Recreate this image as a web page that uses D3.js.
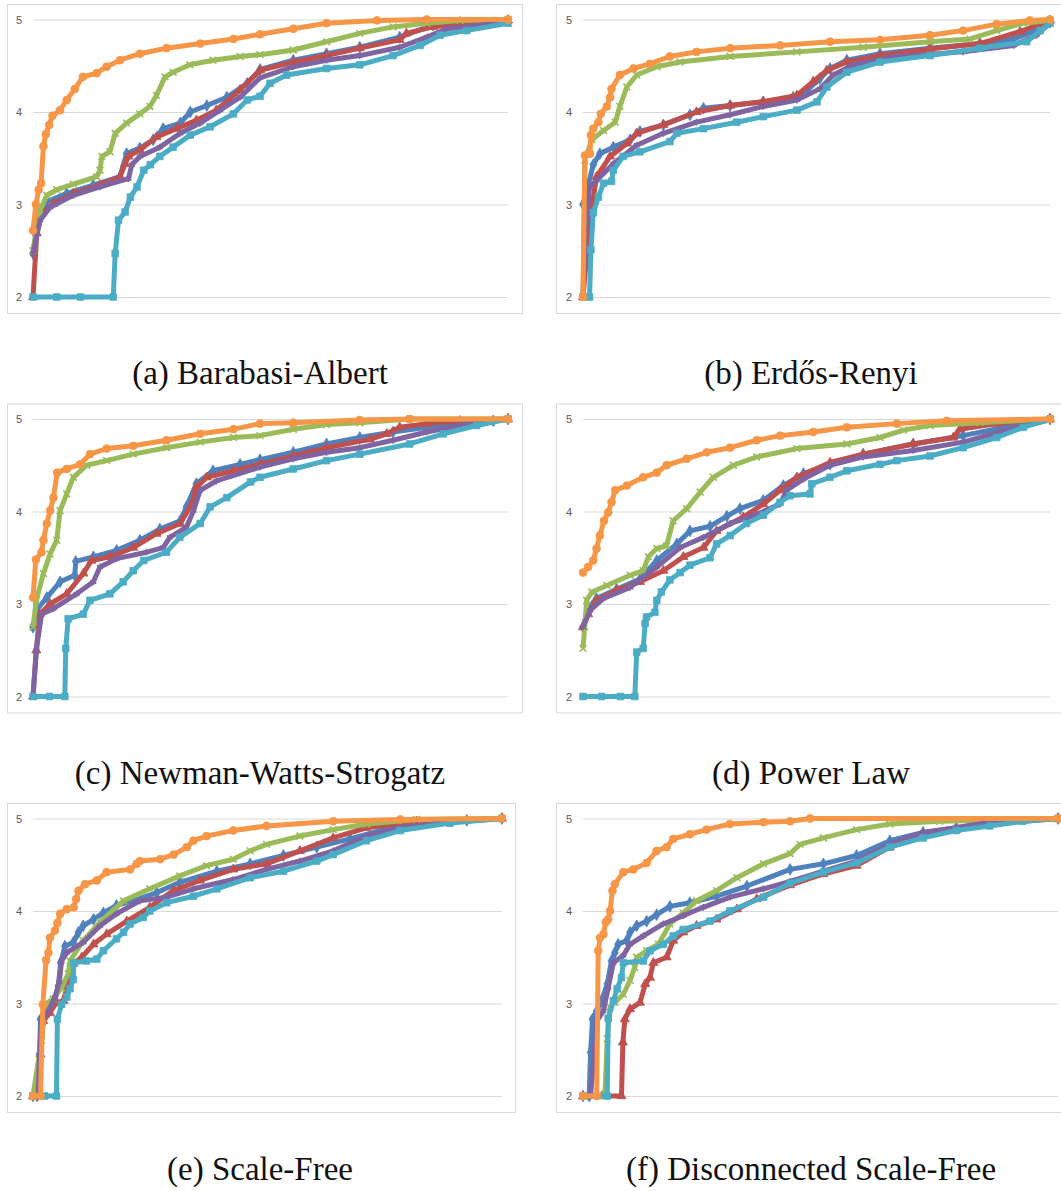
<!DOCTYPE html>
<html>
<head>
<meta charset="utf-8">
<script src="https://cdn.jsdelivr.net/npm/d3@7"></script>
<style>
  body { margin: 0; background: #fff; }
  svg { display: block; }
</style>
</head>
<body>
<svg id="fig" width="1061" height="1191"></svg>
<script>
// Valeurs : x en % de l'axe, y = score (2..5)

const yTicks = [2, 3, 4, 5];
const yDomain = [2, 5];

// (a) Barabasi-Albert
const baBlue = [[0,2.47],[1.1,2.87],[2.9,3.03],[7.1,3.12],[12.7,3.21],[18.3,3.30],[19.7,3.55],[22.5,3.61],[25.3,3.70],[27.4,3.82],[31,3.88],[33.1,4.00],[36.6,4.07],[40.8,4.16],[45.1,4.31],[47.8,4.46],[54.8,4.56],[61.8,4.63],[68.8,4.70],[77.2,4.81],[84.2,4.94],[89.9,4.97],[100,4.99]];
const baRed = [[0,2.0],[0.8,2.69],[1.8,2.90],[4.3,3.01],[8.5,3.12],[14.1,3.21],[18.3,3.30],[19.4,3.44],[20.1,3.52],[22.5,3.59],[26,3.73],[30.2,3.82],[34.4,3.91],[38.6,4.02],[43.6,4.24],[47.8,4.45],[54.8,4.54],[61.8,4.61],[68.8,4.69],[77.2,4.78],[78.6,4.85],[84.2,4.92],[89.9,4.96],[100,4.99]];
const baGreen = [[0,2.5],[1.5,2.94],[2.9,3.10],[5,3.16],[8.5,3.22],[13.4,3.30],[14.1,3.37],[14.5,3.52],[16.2,3.57],[17.3,3.77],[19.7,3.88],[22.5,3.98],[24.6,4.06],[26,4.18],[27.8,4.38],[29.5,4.43],[33,4.51],[37.9,4.56],[43.6,4.60],[47.8,4.62],[54.8,4.67],[61.8,4.76],[68.8,4.85],[75.8,4.92],[82.9,4.96],[89.9,4.99],[100,5.0]];
const baPurple = [[0,2.47],[1.5,2.83],[3.6,2.97],[8.5,3.10],[14.1,3.19],[20.1,3.28],[20.8,3.43],[22.5,3.52],[26.7,3.62],[31,3.77],[35.2,3.88],[39.4,4.02],[43.6,4.16],[47.8,4.37],[54.8,4.49],[61.8,4.56],[68.8,4.61],[77.2,4.70],[82.9,4.81],[87.1,4.90],[100,4.97]];
const baAqua = [[0,2.0],[5,2.0],[10,2.0],[16.9,2.0],[17.3,2.47],[18,2.83],[19.4,2.92],[20.5,3.08],[21.9,3.19],[23.3,3.37],[24.7,3.43],[26.7,3.52],[29.5,3.62],[33.1,3.75],[37.3,3.84],[42.2,3.98],[45.1,4.13],[47.8,4.17],[49.9,4.31],[53.4,4.40],[61.8,4.47],[68.8,4.51],[75.8,4.61],[81.5,4.72],[85.7,4.83],[91.3,4.88],[100,4.96]];
const baOrange = [[0,2.72],[0.6,3.0],[1.2,3.16],[1.7,3.23],[2.2,3.63],[2.7,3.76],[3.4,3.86],[4.1,3.96],[5.7,4.02],[7.1,4.13],[8.8,4.25],[10.5,4.38],[13.4,4.42],[15.5,4.49],[18.3,4.56],[22.5,4.63],[28.1,4.69],[35.2,4.74],[42.2,4.79],[47.8,4.84],[54.8,4.90],[61.8,4.96],[72.4,4.99],[82.9,5.0],[100,5.0]];

// (b) Erdős-Renyi
const erBlue = [[0,3.0],[1.1,3.21],[2.2,3.43],[3.6,3.55],[6.5,3.62],[10.1,3.70],[12.2,3.79],[17.2,3.86],[22.9,3.97],[25.8,4.04],[31.5,4.07],[38.6,4.11],[45,4.16],[47.9,4.23],[50.7,4.36],[52.9,4.47],[56.5,4.56],[63.6,4.63],[74.3,4.69],[85,4.74],[92.2,4.79],[96.4,4.87],[100,4.97]];
const erRed = [[0,2.0],[0.9,2.51],[1.9,2.97],[2.9,3.30],[5.8,3.52],[9.4,3.66],[11.5,3.77],[17.2,3.86],[24.3,4.00],[31.5,4.07],[38.6,4.11],[45.8,4.18],[49.3,4.33],[52.2,4.45],[56.5,4.54],[63.6,4.61],[74.3,4.68],[85,4.74],[93.6,4.87],[100,4.99]];
const erGreen = [[0,2.0],[0.4,3.48],[1.9,3.70],[4.4,3.80],[6.9,3.89],[7.9,4.06],[9.4,4.27],[11.5,4.40],[15.8,4.49],[20.8,4.54],[31.5,4.60],[45.8,4.65],[60,4.70],[74.3,4.76],[82.9,4.79],[88.6,4.88],[94.3,4.96],[100,4.99]];
const erPurple = [[0,2.0],[0.4,2.61],[1.4,3.19],[2.9,3.26],[6.5,3.44],[11.5,3.64],[17.2,3.77],[24.3,3.89],[31.5,3.97],[38.6,4.06],[45.8,4.13],[50.7,4.25],[53.6,4.40],[57.9,4.51],[67.2,4.60],[81.4,4.65],[92.2,4.72],[97.1,4.83],[100,4.96]];
const erAqua = [[0,2.0],[1.4,2.0],[1.7,2.51],[2.2,2.91],[3.3,3.08],[4.4,3.23],[6.1,3.25],[6.5,3.37],[8.6,3.52],[12.2,3.57],[18.6,3.68],[20.1,3.77],[25.8,3.82],[32.9,3.89],[38.6,3.95],[45.8,4.02],[50.1,4.11],[52.2,4.27],[56.5,4.43],[63.6,4.54],[74.3,4.61],[85,4.69],[95,4.76],[97.9,4.88],[100,4.96]];
const erOrange = [[0,2.0],[0.4,3.53],[1.5,3.55],[1.7,3.75],[2.2,3.82],[3.3,3.89],[3.8,3.98],[5.1,4.06],[5.8,4.16],[6.1,4.25],[7.9,4.40],[10.8,4.47],[14.3,4.52],[18.6,4.60],[24.3,4.65],[31.5,4.69],[42.2,4.72],[52.9,4.76],[63.6,4.78],[74.3,4.83],[81.4,4.88],[88.6,4.95],[95.7,4.99],[100,5.0]];

// (c) Newman-Watts-Strogatz
const nwsBlue = [[0,2.75],[0.7,2.93],[2.9,3.07],[5.7,3.24],[8.8,3.31],[9.0,3.46],[12.7,3.51],[17.6,3.58],[22.5,3.69],[26.7,3.81],[31,3.90],[32.3,4.05],[34.4,4.30],[37.9,4.44],[43.6,4.51],[47.8,4.56],[54.8,4.64],[61.8,4.73],[68.8,4.80],[75.8,4.86],[82.9,4.91],[89.9,4.95],[96.9,4.98],[100,5.0]];
const nwsRed = [[0,2.0],[0.7,2.50],[1.4,2.89],[3.6,3.0],[7.1,3.11],[10.6,3.33],[12.3,3.47],[16.2,3.51],[21.1,3.61],[26,3.76],[31,3.87],[33.4,4.08],[34.4,4.26],[36.6,4.37],[42.2,4.44],[47.8,4.51],[54.8,4.60],[61.8,4.69],[70.9,4.78],[74.5,4.84],[77.2,4.91],[82.9,4.95],[89.9,4.98],[100,5.0]];
const nwsGreen = [[0,2.75],[0.7,3.04],[2.2,3.33],[3.6,3.54],[5,3.69],[5.7,4.01],[7.1,4.19],[8.5,4.37],[11.3,4.50],[15.5,4.55],[21.1,4.62],[28.1,4.69],[35.2,4.75],[42.2,4.80],[47.8,4.82],[54.8,4.89],[61.8,4.94],[68.8,4.96],[79.3,5.0],[100,5.0]];
const nwsPurple = [[0,2.0],[0.7,2.5],[1.8,2.89],[4.3,2.95],[9.2,3.11],[12.7,3.24],[14.1,3.40],[17.6,3.49],[23.9,3.56],[27.4,3.61],[28.8,3.72],[32.3,3.83],[33.8,4.01],[35.2,4.23],[38.6,4.33],[47.8,4.48],[54.8,4.57],[61.8,4.64],[68.8,4.69],[75.8,4.77],[82.9,4.86],[89.9,4.93],[100,5.0]];
const nwsAqua = [[0,2.0],[3.5,2.0],[6.7,2.0],[6.9,2.52],[7.4,2.84],[10.6,2.89],[12,3.04],[16.2,3.11],[19,3.24],[21.1,3.36],[23.3,3.47],[28.1,3.56],[30.9,3.72],[35.2,3.87],[37.3,4.05],[40.8,4.15],[45.8,4.32],[47.8,4.37],[54.8,4.46],[61.8,4.55],[68.8,4.62],[79.3,4.73],[86.4,4.84],[93.4,4.93],[100,5.0]];
const nwsOrange = [[0,3.07],[0.6,3.48],[1.8,3.56],[2.2,3.69],[2.9,3.87],[3.6,4.01],[4.3,4.15],[5.1,4.42],[7.1,4.46],[9.9,4.51],[12,4.62],[15.5,4.68],[21.1,4.71],[28.1,4.77],[35.2,4.84],[42.2,4.89],[47.8,4.95],[54.8,4.96],[68.8,4.99],[79.3,5.0],[100,5.0]];

// (d) Power Law
const plBlue = [[0,2.75],[1.1,2.95],[2.9,3.06],[7.2,3.16],[12.2,3.27],[15.8,3.47],[20.1,3.65],[22.9,3.79],[27.2,3.84],[30.8,3.95],[33.6,4.03],[38.6,4.12],[42.9,4.28],[47.2,4.41],[52.9,4.51],[60,4.62],[70.7,4.73],[81.4,4.82],[90,4.91],[100,5.0]];
const plRed = [[0,2.75],[1.1,2.89],[2.9,3.04],[7.2,3.15],[12.2,3.24],[17.2,3.36],[21.5,3.51],[25.8,3.61],[28.6,3.79],[34.3,3.94],[38.6,4.08],[42.2,4.23],[45.8,4.37],[52.9,4.53],[60,4.62],[70.7,4.73],[79.3,4.80],[80.7,4.89],[88.6,4.95],[100,5.0]];
const plGreen = [[0,2.52],[0.8,3.04],[1.9,3.13],[5.1,3.20],[10.1,3.31],[12.9,3.36],[14,3.51],[15.8,3.60],[17.9,3.63],[19.3,3.90],[22.2,4.03],[25.1,4.21],[27.9,4.37],[32.2,4.50],[37.2,4.59],[45.8,4.68],[56.5,4.73],[63.6,4.80],[68.6,4.88],[74.3,4.93],[85,4.96],[100,5.0]];
const plPurple = [[0,2.75],[1.5,2.93],[4.4,3.06],[10.1,3.18],[15.8,3.40],[20.8,3.61],[25.8,3.72],[31.5,3.87],[37.2,3.97],[42.2,4.08],[43.6,4.23],[47.2,4.35],[52.9,4.50],[60,4.59],[70.7,4.66],[81.4,4.75],[90,4.87],[100,4.99]];
const plAqua = [[0,2.0],[4,2.0],[8,2.0],[11.1,2.0],[11.5,2.48],[12.9,2.52],[13.3,2.79],[13.6,2.86],[15.4,2.91],[15.8,3.04],[16.8,3.13],[18.6,3.26],[20.8,3.34],[22.9,3.42],[27.2,3.50],[28.6,3.65],[31.5,3.74],[35,3.87],[38.6,3.96],[42.2,4.10],[44.3,4.17],[48.6,4.19],[49,4.30],[52.9,4.37],[56.5,4.44],[63.6,4.51],[67.2,4.55],[74.3,4.60],[81.4,4.69],[88.6,4.80],[94.3,4.91],[100,5.0]];
const plOrange = [[0,3.34],[1.1,3.40],[2.2,3.47],[2.9,3.60],[3.6,3.74],[4.5,3.90],[5.4,3.99],[6.1,4.10],[6.9,4.23],[9.4,4.28],[12.9,4.37],[15.8,4.42],[17.9,4.50],[22.2,4.57],[26.5,4.64],[31.5,4.69],[37.2,4.77],[42.2,4.82],[49.3,4.86],[56.5,4.91],[67.2,4.95],[77.9,4.98],[100,5.0]];

// (e) Scale-Free
const sfBlue = [[0,2.0],[0.9,2.0],[1.4,2.45],[1.6,2.83],[2.9,2.92],[4.7,3.03],[5.4,3.19],[5.9,3.44],[6.8,3.62],[8.6,3.66],[9.7,3.77],[10.7,3.84],[12.9,3.91],[15,3.98],[17.8,4.06],[21.4,4.11],[26.4,4.20],[31.3,4.31],[39.2,4.43],[46.3,4.51],[53.4,4.60],[60.5,4.69],[67.6,4.78],[74.7,4.88],[81.8,4.95],[92.5,4.98],[100,5.0]];
const sfRed = [[0,2.0],[1.1,2.0],[1.6,2.45],[2.2,2.81],[3.6,2.90],[5,3.01],[6.5,3.03],[7.5,3.23],[8.6,3.43],[10.4,3.50],[12.9,3.64],[15.7,3.75],[20,3.89],[24.9,4.04],[29.9,4.22],[35.6,4.33],[42.7,4.45],[49.8,4.51],[56.9,4.65],[64,4.79],[71.1,4.90],[81.8,4.97],[100,5.0]];
const sfGreen = [[0,2.0],[1.8,2.60],[2.6,2.99],[4.3,3.05],[6.1,3.17],[7.5,3.32],[7.9,3.46],[10.7,3.68],[14.3,3.88],[19.3,4.11],[24.9,4.24],[31.3,4.38],[37,4.49],[42.7,4.56],[46.3,4.65],[49.8,4.72],[56.9,4.81],[64,4.88],[71.1,4.94],[81.8,4.99],[100,5.0]];
const sfPurple = [[0,2.0],[1.1,2.0],[1.4,2.45],[1.8,2.81],[3.3,2.92],[4.7,3.07],[5.6,3.23],[6.1,3.46],[7.2,3.55],[10.7,3.66],[14.3,3.84],[17.8,3.97],[22.8,4.11],[28.5,4.15],[34.2,4.24],[42.7,4.34],[49.8,4.45],[56.9,4.54],[64,4.65],[71.1,4.81],[78.3,4.90],[88.9,4.96],[100,5.0]];
const sfAqua = [[0,2.0],[2.5,2.0],[5,2.0],[5.2,2.83],[6.1,2.99],[7.2,3.07],[7.9,3.16],[8.6,3.26],[8.7,3.44],[11.4,3.46],[13.6,3.48],[15,3.57],[17.8,3.70],[19.3,3.77],[20.7,3.86],[23.5,3.93],[24.9,4.00],[28.5,4.09],[34.2,4.16],[39.2,4.24],[46.3,4.36],[53.4,4.43],[60.5,4.54],[64,4.61],[71.1,4.76],[78.3,4.87],[88.9,4.95],[100,5.0]];
const sfOrange = [[0,2.0],[1.6,2.0],[2.1,2.99],[2.8,3.47],[3.3,3.55],[3.6,3.71],[4.7,3.79],[5.2,3.87],[5.8,3.97],[7.2,4.02],[8.7,4.04],[9.2,4.13],[9.7,4.22],[11.1,4.29],[13.6,4.33],[15.7,4.42],[20.7,4.45],[22.1,4.51],[22.8,4.54],[27.1,4.56],[30,4.61],[32.8,4.69],[34.2,4.76],[37,4.81],[42.7,4.87],[49.8,4.92],[64,4.97],[78.3,4.99],[100,5.0]];

// (f) Disconnected Scale-Free
const dsfBlue = [[0,2.0],[1.3,2.0],[1.6,2.47],[2.0,2.83],[2.9,2.92],[3.9,3.03],[5.1,3.21],[6.0,3.46],[6.7,3.55],[7.4,3.64],[9.2,3.68],[9.9,3.77],[11.3,3.84],[13.4,3.89],[15.5,3.96],[18.3,4.05],[22.5,4.09],[28.1,4.16],[34.5,4.27],[43.6,4.45],[50.6,4.51],[57.6,4.60],[64.6,4.76],[71.6,4.85],[78.6,4.90],[85.6,4.96],[100,5.0]];
const dsfRed = [[0,2.0],[4,2.0],[8.1,2.0],[8.4,2.58],[8.8,2.83],[9.9,2.94],[12,3.01],[13.1,3.21],[14.1,3.28],[14.8,3.44],[17.6,3.50],[19,3.68],[21.1,3.77],[23.9,3.84],[28.1,3.91],[32.4,4.02],[36.6,4.13],[43.6,4.28],[50.6,4.40],[57.6,4.49],[64.6,4.69],[71.6,4.83],[78.6,4.88],[85.6,4.94],[100,5.0]];
const dsfGreen = [[0,2.0],[4.6,2.0],[5.1,2.62],[5.7,2.96],[6.7,3.01],[8.5,3.10],[9.9,3.25],[10.9,3.39],[11.3,3.50],[13.4,3.57],[15.9,3.64],[18.3,3.86],[21.1,3.98],[23.9,4.11],[28.1,4.22],[32.4,4.36],[38,4.51],[43.6,4.62],[45.7,4.72],[50.6,4.79],[57.6,4.88],[64.6,4.94],[75.1,4.97],[100,5.0]];
const dsfPurple = [[0,2.0],[1.6,2.0],[2.9,2.81],[4.3,2.92],[5.3,3.17],[6.4,3.44],[8.5,3.52],[9.9,3.64],[12.7,3.73],[16.9,3.86],[21.1,3.95],[25.3,4.04],[31,4.15],[38,4.24],[43.6,4.32],[50.6,4.43],[57.6,4.54],[64.6,4.72],[71.6,4.85],[78.6,4.90],[85.6,4.96],[100,5.0]];
const dsfAqua = [[0,2.0],[5.1,2.0],[5.3,2.84],[6.4,3.03],[7.2,3.16],[8.1,3.28],[8.5,3.44],[12.7,3.46],[14.1,3.57],[16.9,3.64],[19,3.73],[21.1,3.80],[26.7,3.89],[30.9,4.0],[38,4.15],[43.6,4.30],[50.6,4.42],[57.6,4.52],[64.6,4.69],[71.6,4.79],[78.6,4.87],[85.6,4.92],[92.6,4.97],[100,5.0]];
const dsfOrange = [[0,2.0],[2.9,2.0],[3.2,3.57],[3.6,3.71],[4.3,3.75],[4.8,3.88],[5.3,3.91],[5.7,4.0],[6.2,4.22],[6.7,4.29],[8.5,4.42],[10.6,4.45],[13.4,4.52],[15.5,4.65],[17.6,4.69],[19,4.78],[22.5,4.83],[26,4.88],[30.9,4.94],[38,4.96],[43.6,4.97],[47.8,5.0],[100,5.0]];

const titles = ["(a) Barabasi-Albert", "(b) Erdős-Renyi", "(c) Newman-Watts-Strogatz", "(d) Power Law", "(e) Scale-Free", "(f) Disconnected Scale-Free"];

// series order = ordre de tracé (le dernier passe dessus)
const seriesStyle = [
  { color: "#4F81BD", symbol: d3.symbolDiamond, size: 40, stroke: false },
  { color: "#C0504D", symbol: d3.symbolTriangle, size: 36, stroke: false },
  { color: "#9BBB59", symbol: d3.symbolX, size: 32, stroke: true },
  { color: "#8064A2", symbol: d3.symbolAsterisk, size: 32, stroke: true },
  { color: "#4BACC6", symbol: d3.symbolSquare, size: 44, stroke: false },
  { color: "#F79646", symbol: d3.symbolCircle, size: 48, stroke: false }
];

const panelSeries = [
  [baBlue, baRed, baGreen, baPurple, baAqua, baOrange],
  [erBlue, erRed, erGreen, erPurple, erAqua, erOrange],
  [nwsBlue, nwsRed, nwsGreen, nwsPurple, nwsAqua, nwsOrange],
  [plBlue, plRed, plGreen, plPurple, plAqua, plOrange],
  [sfBlue, sfRed, sfGreen, sfPurple, sfAqua, sfOrange],
  [dsfBlue, dsfRed, dsfGreen, dsfPurple, dsfAqua, dsfOrange]
];

// mise en page des 6 vignettes (cadre, zone de tracé, légende)
const rowTop = [0, 399.5, 799];
const captionY = [384, 384, 381];
const layout = [
  { col: 0, row: 0, frame: [7, 522], plot: [33, 508] },
  { col: 1, row: 0, frame: [556, 1075], plot: [583, 1050] },
  { col: 0, row: 1, frame: [7, 522], plot: [33, 508] },
  { col: 1, row: 1, frame: [556, 1075], plot: [583, 1050] },
  { col: 0, row: 2, frame: [7, 515], plot: [33, 502] },
  { col: 1, row: 2, frame: [556, 1075], plot: [583, 1058] }
];
const captionX = [260, 811];

const svg = d3.select("#fig");

layout.forEach((L, i) => {
  const top = rowTop[L.row];
  const g = svg.append("g").attr("transform", `translate(0,${top})`);

  // cadre du graphique
  g.append("rect")
    .attr("x", L.frame[0] + 0.5).attr("y", 4.5)
    .attr("width", L.frame[1] - L.frame[0]).attr("height", 309)
    .attr("fill", "#fff").attr("stroke", "#d9d9d9").attr("stroke-width", 1);

  const x = d3.scaleLinear().domain([0, 100]).range(L.plot);
  const y = d3.scaleLinear().domain(yDomain).range([297, 19.5]);
  const width = L.plot[1] - L.plot[0];

  const yAxis = g.append("g")
    .attr("transform", `translate(${L.plot[0]},0)`)
    .call(d3.axisLeft(y).tickValues(yTicks).tickSize(-width).tickPadding(11).tickFormat(d3.format("d")));
  yAxis.select(".domain").remove();
  yAxis.selectAll(".tick line").attr("stroke", "#d9d9d9").attr("stroke-width", 1);
  yAxis.selectAll(".tick text")
    .attr("fill", "#595959")
    .style("font-family", "'Liberation Sans', Arial, sans-serif")
    .style("font-size", "11px");

  const line = d3.line().x(d => x(d[0])).y(d => y(d[1]));

  panelSeries[i].forEach((data, s) => {
    const st = seriesStyle[s];
    const sg = g.append("g");
    sg.append("path")
      .datum(data)
      .attr("fill", "none")
      .attr("stroke", st.color)
      .attr("stroke-width", 5)
      .attr("stroke-linejoin", "round")
      .attr("d", line);

    const sym = d3.symbol().type(st.symbol).size(st.size);
    sg.selectAll("path.mk")
      .data(data)
      .join("path")
      .attr("class", "mk")
      .attr("transform", d => `translate(${x(d[0])},${y(d[1])})`)
      .attr("d", sym)
      .attr("fill", st.stroke ? "none" : st.color)
      .attr("stroke", st.color)
      .attr("stroke-width", st.stroke ? 1.6 : 0.8);
  });

  g.append("text")
    .attr("x", captionX[L.col])
    .attr("y", captionY[L.row])
    .attr("text-anchor", "middle")
    .style("font-family", "'Liberation Serif', 'Times New Roman', serif")
    .style("font-size", "33px")
    .attr("fill", "#111")
    .text(titles[i]);
});
</script>
</body>
</html>
